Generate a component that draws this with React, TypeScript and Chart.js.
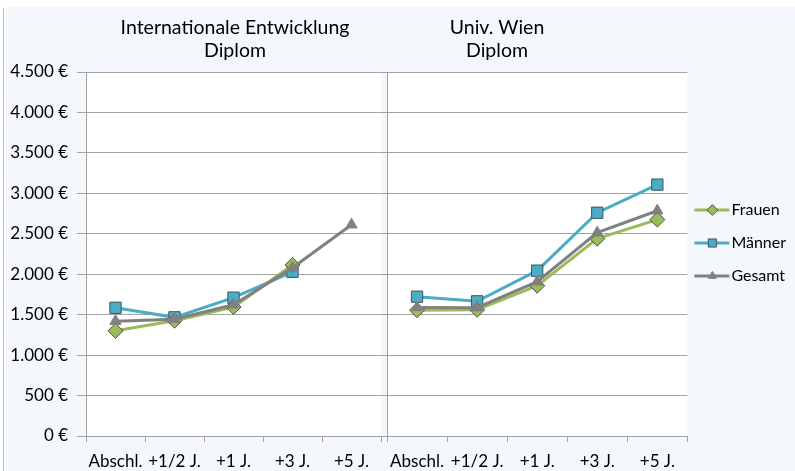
import React, { useEffect, useRef } from 'react';
import { Chart, registerables } from 'chart.js';
import { drawPoint } from 'chart.js/helpers';

Chart.register(...registerables);

const categories = ['Abschl.', '+1/2 J.', '+1 J.', '+3 J.', '+5 J.'];
const seriesNames = ['Frauen', 'Männer', 'Gesamt'];

const intFrauen = [1300, 1425, 1595, 2115, null];
const intMaenner = [1585, 1467, 1710, 2030, null];
const intGesamt = [1420, 1443, 1622, 2080, 2612];

const wienFrauen = [1555, 1560, 1858, 2440, 2675];
const wienMaenner = [1722, 1665, 2044, 2760, 3108];
const wienGesamt = [1590, 1587, 1908, 2514, 2785];

const yMin = 0;
const yMax = 4500;
const yStep = 500;

const titleLeft = ['Internationale Entwicklung', 'Diplom'];
const titleRight = ['Univ. Wien', 'Diplom'];

const COLORS = ['#9BBB59', '#4BACC6', '#808080'];
const POINT_STYLES = ['rectRot', 'rect', 'triangle'];
const RADII = [7.5, 8, 6.5];
const MARKER_BORDER = ['#505050', '#3F5560', '#808080'];
const FONT = 'Lato, "Open Sans", sans-serif';
const GRID = '#A3A3A3';

const fmtEuro = (v: number) => {
  const s = Math.round(v).toString().replace(/\B(?=(\d{3})+(?!\d))/g, '.');
  return s + ' €';
};

const chartAreaBg = {
  id: 'chartAreaBg',
  beforeDraw(chart: any) {
    const { ctx, chartArea } = chart;
    ctx.save();
    ctx.fillStyle = '#FFFFFF';
    ctx.fillRect(chartArea.left, chartArea.top, chartArea.right - chartArea.left, chartArea.bottom - chartArea.top);
    ctx.restore();
  },
};

const panelTitle = {
  id: 'panelTitle',
  afterDraw(chart: any, _args: any, opts: any) {
    if (!opts || !opts.lines) return;
    const { ctx } = chart;
    ctx.save();
    ctx.fillStyle = '#000000';
    ctx.font = `${opts.size}px ${FONT}`;
    ctx.textAlign = 'center';
    ctx.textBaseline = 'middle';
    opts.lines.forEach((line: string, i: number) => {
      ctx.fillText(line, opts.x, opts.y + i * opts.lineHeight);
    });
    ctx.restore();
  },
};

// legend symbol: line with marker; drawn centred by Chart.js at (cursor.x + boxWidth/2)
function legendImage(i: number) {
  const c = document.createElement('canvas');
  c.width = 44;
  c.height = 18;
  const ctx = c.getContext('2d') as CanvasRenderingContext2D;
  ctx.strokeStyle = COLORS[i];
  ctx.lineWidth = 3;
  ctx.beginPath();
  ctx.moveTo(2.5, 9);
  ctx.lineTo(37.5, 9);
  ctx.stroke();
  ctx.fillStyle = COLORS[i];
  ctx.strokeStyle = MARKER_BORDER[i];
  ctx.lineWidth = 1;
  drawPoint(ctx, { pointStyle: POINT_STYLES[i], radius: RADII[i] * 0.72, borderWidth: 1, rotation: 0 } as any, 20.5, 9);
  return c;
}

function makeDatasets(values: (number | null)[][]) {
  const orders = [1, 2, 0];
  return values.map((data, i) => ({
    label: seriesNames[i],
    data,
    borderColor: COLORS[i],
    backgroundColor: COLORS[i],
    borderWidth: 3,
    pointStyle: POINT_STYLES[i],
    pointRadius: RADII[i],
    pointBorderColor: MARKER_BORDER[i],
    pointBorderWidth: 1,
    pointBackgroundColor: COLORS[i],
    tension: 0,
    order: orders[i],
  }));
}

function baseScales(showYLabels: boolean, yWidth: number) {
  return {
    x: {
      type: 'category' as const,
      offset: true,
      grid: {
        offset: true,
        drawOnChartArea: false,
        drawTicks: true,
        tickLength: 6,
        color: GRID,
      },
      border: { display: true, color: GRID },
      ticks: {
        color: '#000000',
        font: { family: FONT, size: 17 },
        padding: 9,
        maxRotation: 0,
        autoSkip: false,
      },
      afterFit: (scale: any) => {
        scale.height = 34;
        scale.paddingLeft = 0;
        scale.paddingRight = 0;
      },
    },
    y: {
      min: yMin,
      max: yMax,
      grid: {
        color: GRID,
        drawTicks: true,
        tickLength: 9,
      },
      border: { display: true, color: GRID },
      ticks: {
        display: showYLabels,
        stepSize: yStep,
        color: '#000000',
        font: { family: FONT, size: 17 },
        padding: 9,
        callback: (v: any) => fmtEuro(Number(v)),
      },
      afterFit: (scale: any) => {
        scale.width = yWidth;
        scale.paddingTop = 0;
        scale.paddingBottom = 0;
      },
    },
  };
}

export default function App() {
  const leftRef = useRef<HTMLCanvasElement>(null);
  const rightRef = useRef<HTMLCanvasElement>(null);

  useEffect(() => {
    const left = new Chart(leftRef.current as HTMLCanvasElement, {
      type: 'line',
      data: { labels: categories, datasets: makeDatasets([intFrauen, intMaenner, intGesamt]) as any },
      options: {
        animation: false,
        responsive: false,
        maintainAspectRatio: false,
        layout: { autoPadding: false, padding: { left: 6, top: 72, right: 3, bottom: 1 } },
        scales: baseScales(true, 80) as any,
        plugins: {
          legend: { display: false },
          tooltip: { enabled: false },
          title: { display: false },
          panelTitle: { lines: titleLeft, x: 235, y: 28, lineHeight: 23, size: 19.5 },
        } as any,
      },
      plugins: [chartAreaBg, panelTitle],
    });

    const right = new Chart(rightRef.current as HTMLCanvasElement, {
      type: 'line',
      data: { labels: categories, datasets: makeDatasets([wienFrauen, wienMaenner, wienGesamt]) as any },
      options: {
        animation: false,
        responsive: false,
        maintainAspectRatio: false,
        layout: { autoPadding: false, padding: { left: 0, top: 72, right: 4.5, bottom: 1 } },
        scales: baseScales(false, 9) as any,
        plugins: {
          legend: {
            display: true,
            position: 'right',
            align: 'start',
            fullSize: false,
            title: {
              display: true,
              text: ' ',
              font: { family: FONT, size: 10 },
              padding: { top: 0, bottom: 101 },
            },
            labels: {
              usePointStyle: true,
              pointStyleWidth: 19,
              padding: 17,
              color: '#000000',
              font: { family: FONT, size: 16 },
              generateLabels: () =>
                seriesNames.map((name, i) => ({
                  text: name,
                  fillStyle: COLORS[i],
                  strokeStyle: COLORS[i],
                  lineWidth: 0,
                  pointStyle: legendImage(i),
                  hidden: false,
                  datasetIndex: i,
                  fontColor: '#000000',
                })),
            },
          },
          tooltip: { enabled: false },
          title: { display: false },
          panelTitle: { lines: titleRight, x: 497 - 378, y: 28, lineHeight: 23, size: 19.5 },
        } as any,
      },
      plugins: [chartAreaBg, panelTitle],
    });

    return () => {
      left.destroy();
      right.destroy();
    };
  }, []);

  return (
    <div style={{ position: 'absolute', left: 0, top: 0, width: 795, height: 471, background: '#FFFFFF', overflow: 'hidden' }}>
      <div style={{ position: 'absolute', left: 3, top: 8, width: 1, height: 463, background: '#BFBFBF' }} />
      <div style={{ position: 'absolute', left: 6, top: 7, width: 789, height: 464, background: '#F4F7FC' }} />
      <canvas ref={leftRef} width={384} height={471} style={{ position: 'absolute', left: 0, top: 0, width: 384, height: 471 }} />
      <canvas ref={rightRef} width={417} height={471} style={{ position: 'absolute', left: 378, top: 0, width: 417, height: 471 }} />
    </div>
  );
}
